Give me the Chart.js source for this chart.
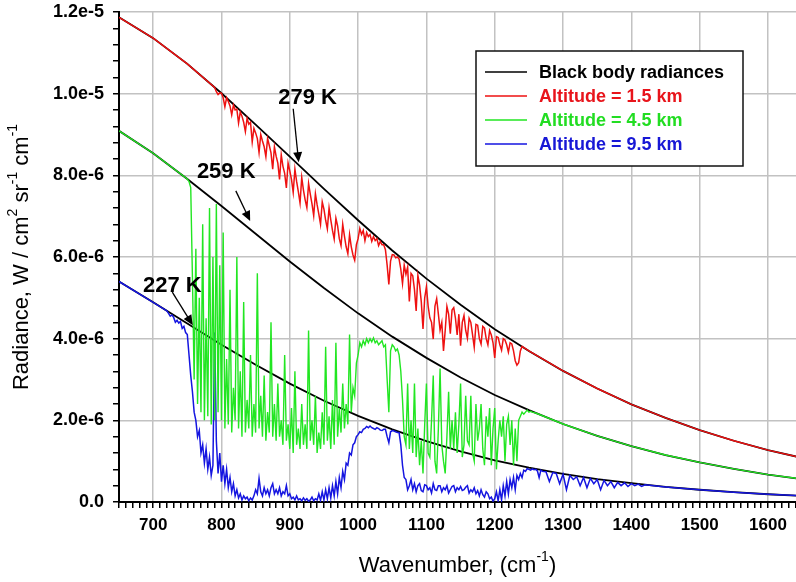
<!DOCTYPE html>
<html lang="en">
<head>
<meta charset="UTF-8">
<title>Radiance spectra</title>
<script src="https://cdn.jsdelivr.net/npm/chart.js@4.4.0/dist/chart.umd.min.js"></script>
<style>
  html, body { margin: 0; padding: 0; background: #fff; }
  #wrap { width: 796px; height: 582px; }
</style>
</head>
<body>
<div id="wrap"><canvas id="chart" width="796" height="582"></canvas></div>
<script>
// values in units of 1e-6 W / cm2 sr-1 cm-1
const bbWn  = [650, 700, 750, 800, 850, 900, 950, 1000, 1050, 1100, 1150, 1200, 1250, 1300, 1350, 1400, 1450, 1500, 1550, 1600, 1650];
const bb279 = [11.87, 11.36, 10.73, 10.01, 9.24, 8.46, 7.67, 6.90, 6.16, 5.47, 4.83, 4.23, 3.70, 3.21, 2.78, 2.39, 2.06, 1.76, 1.50, 1.27, 1.08];
const bb259 = [9.09, 8.54, 7.91, 7.25, 6.57, 5.89, 5.24, 4.62, 4.05, 3.53, 3.05, 2.62, 2.25, 1.91, 1.62, 1.37, 1.15, 0.97, 0.81, 0.67, 0.56];
const bb227 = [5.40, 4.89, 4.37, 3.85, 3.36, 2.90, 2.48, 2.11, 1.78, 1.49, 1.24, 1.02, 0.84, 0.69, 0.56, 0.46, 0.37, 0.30, 0.24, 0.19, 0.15];

// measured spectra over their structured part (start wavenumber, step, values)
const redStart = 790, redStep = 2.5;
const redNoise = [
  10.15, 10.05, 9.98, 10.02, 10.01, 9.90, 9.68, 9.90, 9.81, 9.70, 9.48, 9.72, 9.60, 9.62, 9.28, 9.55, 9.45, 9.30, 9.07, 9.40,
  9.25, 9.30, 8.82, 9.15, 9.04, 8.90, 8.56, 9.00, 8.84, 8.70, 8.46, 8.90, 8.73, 8.55, 8.15, 8.70, 8.47, 8.30, 7.90, 8.50,
  8.22, 8.05, 7.69, 8.30, 8.11, 7.90, 7.58, 8.15, 7.85, 7.60, 7.32, 7.95, 7.64, 7.40, 7.21, 7.80, 7.54, 7.30, 7.01, 7.55,
  7.28, 7.05, 6.80, 7.35, 7.17, 6.90, 6.69, 7.20, 6.91, 6.65, 6.44, 6.95, 6.76, 6.45, 6.28, 6.80, 6.51, 6.25, 6.08, 6.55,
  6.25, 6.05, 5.92, 6.30, 6.45, 6.70, 6.55, 6.65, 6.40, 6.60, 6.50, 6.55, 6.38, 6.50, 6.40, 6.45, 6.28, 6.38, 6.30, 6.30,
  6.18, 5.80, 5.33, 5.90, 6.06, 6.05, 5.98, 6.00, 5.95, 5.70, 5.35, 5.80, 5.58, 5.75, 4.91, 5.60, 5.54, 5.20, 4.68, 5.55,
  5.31, 4.90, 4.24, 5.00, 5.27, 4.80, 4.51, 4.40, 3.99, 4.80, 4.98, 4.60, 4.21, 4.40, 3.70, 4.20, 4.79, 4.60, 4.12, 4.70,
  4.76, 4.50, 4.09, 4.60, 3.83, 4.40, 4.57, 4.20, 4.01, 4.50, 4.40, 4.10, 3.79, 4.35, 4.33, 4.00, 3.87, 4.30, 4.26, 4.00,
  3.85, 4.20, 4.09, 3.90, 3.53, 4.05, 4.03, 3.85, 3.72, 4.00, 3.97, 3.85, 3.67, 3.90, 3.87, 3.70, 3.46, 3.35, 3.41, 3.70,
  3.81
];
const greenStart = 750, greenStep = 2.5;
const greenNoise = [
  7.91, 7.85, 7.70, 5.50, 3.00, 6.20, 2.40, 5.00, 2.20, 6.80, 2.00, 4.50, 2.10, 7.20, 1.90, 6.00, 2.00, 7.30, 2.20, 5.80,
  2.00, 6.60, 1.80, 3.50, 1.90, 5.20, 1.70, 2.80, 2.00, 6.00, 1.80, 3.20, 1.60, 4.90, 1.70, 2.50, 1.80, 3.60, 1.60, 2.40,
  1.70, 5.60, 1.80, 2.60, 1.60, 3.10, 1.50, 2.20, 1.70, 4.40, 1.60, 2.40, 1.50, 2.90, 1.60, 2.00, 1.40, 3.60, 1.50, 1.90,
  1.30, 2.30, 1.20, 3.20, 1.40, 1.80, 1.30, 2.40, 1.40, 1.90, 1.30, 4.20, 1.50, 2.00, 1.40, 2.60, 1.20, 1.70, 1.30, 2.20,
  1.40, 3.80, 1.50, 2.10, 1.30, 2.50, 1.40, 3.90, 1.60, 2.30, 1.70, 2.90, 1.80, 2.40, 1.90, 4.10, 2.20, 2.80, 2.60, 3.40,
  3.60, 3.90, 3.80, 3.95, 3.85, 4.00, 3.90, 4.00, 3.92, 4.02, 3.90, 3.95, 3.85, 3.90, 3.95, 3.80, 3.85, 3.00, 2.20, 3.70,
  3.85, 3.80, 3.70, 3.75, 3.60, 3.20, 2.50, 1.60, 1.40, 2.90, 1.30, 2.00, 1.20, 2.90, 1.10, 1.80, 0.90, 1.50, 0.70, 1.90,
  2.90, 1.20, 1.10, 2.00, 3.10, 1.00, 0.70, 1.80, 3.27, 1.40, 1.00, 0.70, 1.60, 2.70, 1.30, 2.00, 1.30, 2.20, 1.20, 1.90,
  2.90, 1.10, 1.40, 2.60, 1.50, 1.40, 2.60, 1.20, 1.00, 2.40, 1.50, 1.80, 2.40, 1.30, 0.90, 2.10, 1.60, 2.30, 0.90, 1.80,
  2.30, 0.80, 1.50, 2.00, 1.60, 2.10, 1.00, 1.90, 2.10, 1.40, 2.00, 0.90, 1.80, 1.00, 2.00, 2.10, 2.20, 2.15, 2.20, 2.25,
  2.20, 2.22, 2.20, 2.19, 2.18
];
const blueStart = 720, blueStep = 2.5;
const blueNoise = [
  4.68, 4.62, 4.55, 4.58, 4.52, 4.40, 4.45, 4.38, 4.42, 4.25, 4.30, 4.15, 4.10, 3.60, 3.10, 2.70, 2.20, 2.00, 1.60, 1.75,
  1.20, 1.40, 0.95, 1.30, 0.80, 1.10, 0.65, 0.90, 4.15, 1.50, 0.70, 1.20, 0.50, 0.90, 0.45, 0.80, 0.35, 0.60, 0.25, 0.45,
  0.15, 0.30, 0.10, 0.20, 0.05, 0.15, 0.08, 0.12, 0.03, 0.10, 0.05, 0.15, 0.30, 0.20, 0.58, 0.25, 0.15, 0.35, 0.20, 0.30,
  0.15, 0.35, 0.45, 0.20, 0.30, 0.20, 0.35, 0.15, 0.25, 0.20, 0.40, 0.15, 0.20, 0.08, 0.12, 0.05, 0.15, 0.05, 0.08, 0.03,
  0.10, 0.04, 0.08, 0.02, 0.05, 0.12, 0.03, 0.08, 0.05, 0.20, 0.04, 0.25, 0.05, 0.30, 0.08, 0.35, 0.10, 0.40, 0.15, 0.50,
  0.20, 0.60, 0.35, 0.75, 0.55, 0.95, 0.90, 1.20, 1.15, 1.40, 1.45, 1.60, 1.65, 1.72, 1.70, 1.78, 1.80, 1.85, 1.82, 1.86,
  1.82, 1.80, 1.78, 1.82, 1.80, 1.76, 1.75, 1.78, 1.78, 1.60, 1.45, 1.72, 1.75, 1.74, 1.72, 1.70, 1.70, 1.40, 0.90, 0.60,
  0.55, 0.30, 0.40, 0.55, 0.30, 0.45, 0.25, 0.40, 0.45, 0.28, 0.25, 0.42, 0.40, 0.30, 0.35, 0.22, 0.45, 0.30, 0.28, 0.40,
  0.40, 0.25, 0.35, 0.30, 0.40, 0.22, 0.30, 0.38, 0.40, 0.25, 0.35, 0.30, 0.38, 0.28, 0.30, 0.36, 0.40, 0.22, 0.30, 0.25,
  0.35, 0.20, 0.28, 0.15, 0.30, 0.18, 0.12, 0.25, 0.20, 0.08, 0.12, 0.02, 0.08, 0.25, 0.03, 0.30, 0.05, 0.40, 0.15, 0.50,
  0.20, 0.55, 0.35, 0.60, 0.30, 0.65, 0.55, 0.70, 0.60, 0.78, 0.75, 0.82, 0.80, 0.78, 0.81, 0.79, 0.80, 0.76, 0.60, 0.78
];
const blueTailStart = 1270, blueTailStep = 5;
const blueTail = [
  0.75, 0.74, 0.50, 0.72, 0.70, 0.45, 0.68, 0.30, 0.65, 0.55,
  0.62, 0.40, 0.60, 0.35, 0.58, 0.45, 0.55, 0.30, 0.53, 0.40,
  0.50, 0.35, 0.48, 0.40, 0.47, 0.38, 0.45, 0.40, 0.44, 0.38,
  0.42
];

const seriesLabels = ['Black body radiances', 'Altitude = 1.5 km', 'Altitude = 4.5 km', 'Altitude = 9.5 km'];
const seriesColors = ['#000000', '#ee1111', '#22e622', '#1515e0'];
const legendText   = ['#000000', '#e8141b', '#22dd22', '#1818d6'];

// temperature labels with arrows, placed in data units
const notes = [
  { text: '279 K', at: [883, 9.75], from: [905, 9.63], to: [913, 8.32] },
  { text: '259 K', at: [764, 7.93], from: [821, 7.62], to: [842, 6.88] },
  { text: '227 K', at: [685, 5.14], from: [728, 5.14], to: [758, 4.33] }
];

function pts(wn, vals) { return wn.map((w, i) => ({ x: w, y: vals[i] })); }
// smooth black-body part outside the measured runs, measured values inside
function spectrum(bb, runs) {
  const first = runs[0][0];
  const lastRun = runs[runs.length - 1];
  const end = lastRun[0] + (lastRun[2].length - 1) * lastRun[1];
  const smooth = pts(bbWn, bb);
  let mid = [];
  runs.forEach(([start, step, vals]) => {
    mid = mid.concat(vals.map((v, i) => ({ x: start + i * step, y: v })));
  });
  return smooth.filter(p => p.x < first).concat(mid, smooth.filter(p => p.x > end));
}

const FONT = "'Liberation Sans', Arial, sans-serif";
const GRID = '#c2c2c2';

function lineSet(label, data, color, width) {
  return { label, data, borderColor: color, borderWidth: width, pointRadius: 0, fill: false, tension: 0 };
}

function drawRich(ctx, parts, size, weight) {
  const sup = Math.round(size * 0.62);
  let w = 0;
  parts.forEach(p => {
    ctx.font = `${weight} ${p.sup ? sup : size}px ${FONT}`;
    p.w = ctx.measureText(p.t).width;
    w += p.w;
  });
  let x = -w / 2;
  parts.forEach(p => {
    ctx.font = `${weight} ${p.sup ? sup : size}px ${FONT}`;
    ctx.fillText(p.t, x, p.sup ? -size * 0.42 : 0);
    x += p.w;
  });
}

const decor = {
  id: 'decor',
  afterDatasetsDraw(chart) {
    const { ctx, scales: { x, y } } = chart;
    ctx.save();
    // temperature notes
    ctx.fillStyle = '#000';
    ctx.strokeStyle = '#000';
    ctx.textBaseline = 'alphabetic';
    ctx.textAlign = 'left';
    ctx.font = `bold 22px ${FONT}`;
    notes.forEach(n => {
      ctx.fillText(n.text, x.getPixelForValue(n.at[0]), y.getPixelForValue(n.at[1]));
      const x0 = x.getPixelForValue(n.from[0]), y0 = y.getPixelForValue(n.from[1]);
      const x1 = x.getPixelForValue(n.to[0]), y1 = y.getPixelForValue(n.to[1]);
      const a = Math.atan2(y1 - y0, x1 - x0);
      ctx.lineWidth = 1.3;
      ctx.beginPath();
      ctx.moveTo(x0, y0);
      ctx.lineTo(x1 - 8 * Math.cos(a), y1 - 8 * Math.sin(a));
      ctx.stroke();
      ctx.beginPath();
      ctx.moveTo(x1, y1);
      ctx.lineTo(x1 - 10 * Math.cos(a) + 4.5 * Math.sin(a), y1 - 10 * Math.sin(a) - 4.5 * Math.cos(a));
      ctx.lineTo(x1 - 10 * Math.cos(a) - 4.5 * Math.sin(a), y1 - 10 * Math.sin(a) + 4.5 * Math.cos(a));
      ctx.closePath();
      ctx.fill();
    });

    // legend box
    const bx = 476, by = 51, bw = 267, bh = 115;
    ctx.fillStyle = '#fff';
    ctx.fillRect(bx, by, bw, bh);
    ctx.lineWidth = 1.5;
    ctx.strokeStyle = '#111';
    ctx.strokeRect(bx, by, bw, bh);
    ctx.font = `bold 18px ${FONT}`;
    ctx.textBaseline = 'middle';
    seriesLabels.forEach((lab, i) => {
      const ly = by + 21 + i * 24;
      ctx.strokeStyle = seriesColors[i];
      ctx.lineWidth = 1.5;
      ctx.beginPath();
      ctx.moveTo(bx + 9, ly);
      ctx.lineTo(bx + 51, ly);
      ctx.stroke();
      ctx.fillStyle = legendText[i];
      ctx.fillText(lab, bx + 63, ly + 1);
    });
    ctx.restore();
  },
  afterDraw(chart) {
    const { ctx, chartArea } = chart;
    ctx.save();
    ctx.fillStyle = '#000';
    ctx.textAlign = 'left';
    ctx.textBaseline = 'middle';
    ctx.translate((chartArea.left + chartArea.right) / 2, 566);
    drawRich(ctx, [{ t: 'Wavenumber, (cm' }, { t: '-1', sup: true }, { t: ')' }], 22, 'normal');
    ctx.restore();
    ctx.save();
    ctx.fillStyle = '#000';
    ctx.textAlign = 'left';
    ctx.textBaseline = 'middle';
    ctx.translate(22, (chartArea.top + chartArea.bottom) / 2);
    ctx.rotate(-Math.PI / 2);
    drawRich(ctx, [{ t: 'Radiance, W / cm' }, { t: '2', sup: true }, { t: ' sr' }, { t: '-1', sup: true },
                   { t: ' cm' }, { t: '-1', sup: true }], 22, 'normal');
    ctx.restore();
  }
};

function yLabel(v) {
  const k = Math.round(v * 10);
  if (k % 20 !== 0) return '';
  if (k === 0) return '0.0';
  if (k >= 100) return (k / 100).toFixed(1) + 'e-5';
  return (k / 10).toFixed(1) + 'e-6';
}

new Chart(document.getElementById('chart'), {
  type: 'line',
  data: {
    datasets: [
      lineSet(seriesLabels[1], spectrum(bb279, [[redStart, redStep, redNoise]]), seriesColors[1], 1.5),
      lineSet(seriesLabels[2], spectrum(bb259, [[greenStart, greenStep, greenNoise]]), seriesColors[2], 1.4),
      lineSet(seriesLabels[3], spectrum(bb227, [[blueStart, blueStep, blueNoise], [blueTailStart, blueTailStep, blueTail]]), seriesColors[3], 1.5),
      lineSet('279 K', pts(bbWn, bb279), '#000', 1.8),
      lineSet('259 K', pts(bbWn, bb259), '#000', 1.8),
      lineSet('227 K', pts(bbWn, bb227), '#000', 1.8)
    ]
  },
  options: {
    responsive: false,
    animation: false,
    layout: { padding: { top: 12, right: 0, bottom: 0, left: 0 } },
    plugins: { legend: { display: false }, tooltip: { enabled: false } },
    scales: {
      x: {
        type: 'linear', min: 650, max: 1641,
        border: { color: '#000', width: 2 },
        grid: {
          color: c => (c.tick && c.tick.value % 100 === 0) ? GRID : 'rgba(0,0,0,0)',
          lineWidth: 1.5, tickColor: '#000', tickWidth: 1.5, tickLength: 6
        },
        ticks: {
          stepSize: 10, autoSkip: false, maxRotation: 0, padding: 7, color: '#000',
          font: { family: FONT, size: 17, weight: 'bold' },
          callback: v => (v % 100 === 0 ? String(v) : '')
        },
        afterFit: s => { s.height = 80; s.paddingLeft = 0; s.paddingRight = 0; }
      },
      y: {
        min: 0, max: 12,
        border: { color: '#000', width: 2 },
        grid: {
          color: c => (c.tick && Math.round(c.tick.value * 10) % 20 === 0) ? GRID : 'rgba(0,0,0,0)',
          lineWidth: 1.5, tickColor: '#000', tickWidth: 1.5, tickLength: 6
        },
        ticks: {
          stepSize: 0.4, autoSkip: false, padding: 9, color: '#000',
          font: { family: FONT, size: 18, weight: 'bold' },
          callback: yLabel
        },
        afterFit: s => { s.width = 119; s.paddingTop = 0; s.paddingBottom = 0; }
      }
    }
  },
  plugins: [decor]
});
</script>
</body>
</html>
